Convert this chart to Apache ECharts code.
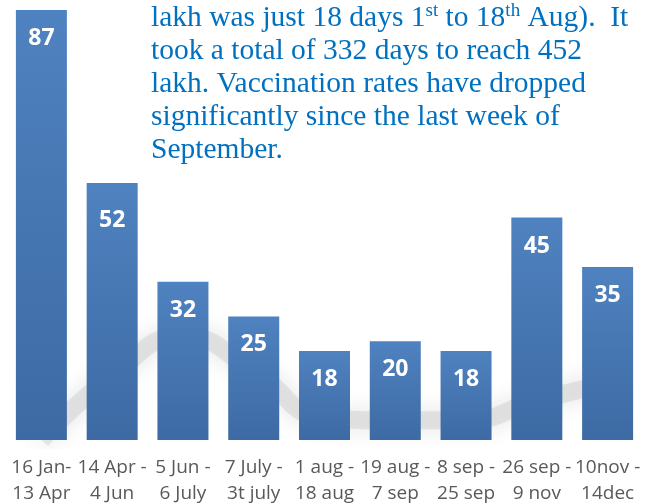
<!DOCTYPE html>
<html>
<head>
<meta charset="utf-8">
<script src="https://cdn.jsdelivr.net/npm/echarts@6/dist/echarts.min.js"></script>
<style>html,body{margin:0;padding:0;background:#fff;}#c{width:655px;height:503px;}</style>
</head>
<body>
<div id="c"></div>
<script>
const categories = ['16 Jan-\n13 Apr','14 Apr -\n4 Jun','5 Jun -\n6 July','7 July -\n3t july','1 aug -\n18 aug','19 aug -\n7 sep','8 sep -\n25 sep','26 sep -\n9 nov','10nov -\n14dec'];
const values = [87, 52, 32, 25, 18, 20, 18, 45, 35];
const shadowValues = [0, 13, 21, 14, 4.5, 4, 4, 8, 11.5];
const noteLines = [
  'lakh was just 18 days 1{sup|st} to 18{sup|th} Aug).  It',
  'took a total of 332 days to reach 452',
  'lakh. Vaccination rates have dropped',
  'significantly since the last week of',
  'September.'
];

const chart = echarts.init(document.getElementById('c'));
chart.setOption({
  animation: false,
  backgroundColor: '#ffffff',
  grid: { left: 6, right: 12, top: 10, bottom: 63, containLabel: false, outerBoundsMode: 'none' },
  xAxis: {
    type: 'category',
    data: categories,
    axisLine: { show: false },
    axisTick: { show: false },
    axisLabel: {
      interval: 0, margin: 15, color: '#595959',
      fontFamily: 'Open Sans', fontSize: 19, lineHeight: 26
    }
  },
  yAxis: {
    type: 'value', min: 0, max: 87,
    show: false, splitLine: { show: false }
  },
  series: [
    {
      type: 'line',
      data: shadowValues,
      smooth: 0.5,
      symbol: 'none',
      z: 1,
      silent: true,
      lineStyle: {
        color: 'rgba(150,150,150,0.18)', width: 18,
        shadowBlur: 22, shadowColor: 'rgba(0,0,0,0.6)'
      }
    },
    {
      type: 'bar',
      data: values.map((v, i) => i === 1 ? { value: v, label: { distance: 26 } } : v),
      barWidth: 51,
      z: 2,
      itemStyle: {
        color: new echarts.graphic.LinearGradient(0, 0, 0, 1, [
          { offset: 0, color: '#4F82C0' },
          { offset: 1, color: '#3D6AA3' }
        ])
      },
      label: {
        show: true, position: 'insideTop', distance: 17,
        color: '#ffffff', fontFamily: 'Open Sans', fontWeight: 'bold', fontSize: 23
      }
    }
  ],
  graphic: [{
    type: 'text',
    left: 151, top: 1.5, z: 10,
    style: {
      text: noteLines.join('\n'),
      fill: '#0070C0',
      fontFamily: 'Liberation Serif',
      fontSize: 29.5,
      lineHeight: 33,
      rich: {
        sup: { fontSize: 19, fill: '#0070C0', fontFamily: 'Liberation Serif', lineHeight: 18, verticalAlign: 'top' }
      }
    }
  }]
});
</script>
</body>
</html>
